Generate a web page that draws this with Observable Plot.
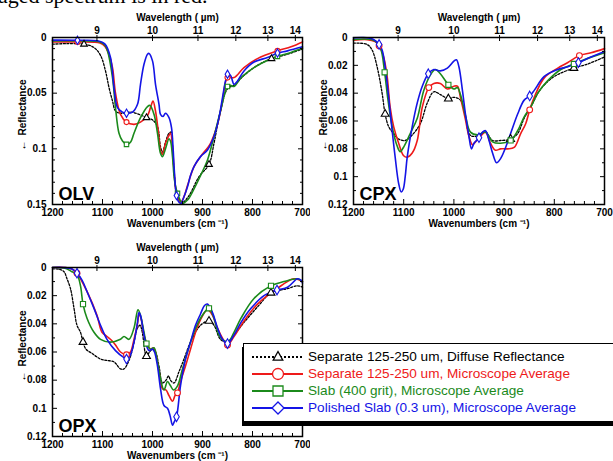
<!DOCTYPE html>
<html><head><meta charset="utf-8">
<script src="https://cdn.jsdelivr.net/npm/d3@7"></script>
<script src="https://cdn.jsdelivr.net/npm/@observablehq/plot@0.6"></script>
<style>
body{margin:0;width:613px;height:461px;position:relative;overflow:hidden;background:#fff;}
#cap{position:absolute;left:-2px;top:-15px;font:22px/22px 'Liberation Serif','Times New Roman',serif;color:#000;white-space:nowrap;}
.panel{position:absolute;}
#legend{position:absolute;left:243px;top:343px;width:390px;height:77px;border:1.5px solid #000;background:#fff;box-shadow:-1px 4px 0 0 #000;font:13.6px 'Liberation Sans',Arial,sans-serif;}
.row{position:absolute;left:0;height:17px;display:flex;align-items:center;white-space:nowrap;}
.row svg{margin-left:8px;margin-right:5px;}
</style>
</head><body>
<div id="cap">aged spectrum is in red.</div>
<div id="p1" class="panel" style="left:0;top:0"></div>
<div id="p2" class="panel" style="left:301px;top:0"></div>
<div id="p3" class="panel" style="left:0;top:230px"></div>
<div id="legend"></div>
<script>
// ---- series names / styles ----
const seriesKeys = ["black","red","green","blue"];
const seriesNames = ["Separate 125-250 um, Diffuse Reflectance","Separate 125-250 um, Microscope Average","Slab (400 grit), Microscope Average","Polished Slab (0.3 um), Microscope Average"];
const seriesColors = ["#000000","#ee1a1a","#1b8a1b","#1414e6"];
const seriesSymbols = ["triangle","circle","square","diamond"];

// ---- axis ticks ----
const wnMajor = [1200,1100,1000,900,800,700];
const wnMinor = [1180,1160,1140,1120,1080,1060,1040,1020,980,960,940,920,880,860,840,820,780,760,740,720];
const wlTicks = [9,10,11,12,13,14];
const olvYMajor = [0,0.05,0.1,0.15];
const olvYMinor = [0.01,0.02,0.03,0.04,0.06,0.07,0.08,0.09,0.11,0.12,0.13,0.14];
const pxYMajor = [0,0.02,0.04,0.06,0.08,0.1,0.12];
const pxYMinor = [0.01,0.03,0.05,0.07,0.09,0.11];

// ---- OLV [wavenumber, reflectance] ----
const olvBlack = [[1200,0.006],[1171,0.0055],[1137,0.006],[1117,0.009],[1104,0.016],[1094,0.03],[1087,0.045],[1080,0.057],[1074,0.066],[1064,0.068],[1044,0.067],[1027,0.069],[1012,0.072],[1000,0.074],[990,0.08],[984,0.098],[980,0.103],[974,0.094],[967,0.086],[962,0.085],[960,0.098],[956,0.125],[950,0.143],[940,0.148],[927,0.142],[907,0.125],[887,0.114],[877,0.095],[864,0.066],[850,0.046],[837,0.043],[817,0.034],[790,0.025],[762,0.019],[730,0.015],[700,0.0104]];
const olvRed = [[1200,0.004],[1150,0.004],[1105,0.005],[1095,0.008],[1088,0.014],[1080,0.027],[1074,0.05],[1064,0.069],[1052,0.076],[1037,0.078],[1024,0.076],[1010,0.07],[1004,0.063],[999,0.057],[994,0.066],[988,0.086],[984,0.101],[980,0.105],[974,0.095],[967,0.088],[964,0.086],[960,0.098],[957,0.119],[952,0.14],[944,0.148],[937,0.143],[930,0.133],[917,0.116],[904,0.107],[884,0.095],[870,0.078],[860,0.057],[850,0.036],[837,0.036],[817,0.027],[790,0.019],[750,0.012],[723,0.0084],[700,0.004]];
const olvGreen = [[1200,0.003],[1150,0.003],[1105,0.004],[1095,0.007],[1090,0.012],[1080,0.036],[1074,0.063],[1067,0.086],[1060,0.093],[1052,0.096],[1044,0.094],[1037,0.086],[1024,0.072],[1010,0.062],[1005,0.061],[997,0.069],[990,0.086],[984,0.104],[980,0.107],[974,0.1],[967,0.091],[964,0.093],[960,0.107],[956,0.128],[950,0.14],[940,0.149],[930,0.146],[917,0.136],[904,0.124],[890,0.11],[877,0.089],[864,0.066],[850,0.044],[844,0.043],[837,0.044],[823,0.036],[797,0.027],[763,0.019],[750,0.017],[723,0.0134],[700,0.0095]];
const olvBlue = [[1200,0.0024],[1150,0.0025],[1110,0.003],[1095,0.006],[1084,0.018],[1077,0.045],[1070,0.063],[1060,0.067],[1052,0.068],[1040,0.067],[1030,0.06],[1024,0.042],[1017,0.024],[1010,0.015],[1007,0.0143],[1000,0.021],[994,0.042],[987,0.06],[984,0.069],[979,0.071],[974,0.068],[967,0.072],[962,0.081],[959,0.098],[956,0.122],[952,0.142],[947,0.148],[943,0.149],[937,0.143],[930,0.134],[924,0.124],[917,0.116],[904,0.107],[890,0.101],[877,0.089],[867,0.072],[860,0.054],[854,0.039],[850,0.033],[844,0.034],[837,0.042],[830,0.039],[817,0.030],[797,0.022],[770,0.018],[750,0.014],[730,0.012],[700,0.0084]];
const olvBlackMk = [[1137,0.006],[1012,0.072],[887,0.114],[762,0.019]];
const olvRedMk = [[1150,0.004],[1052,0.076],[850,0.036],[750,0.012]];
const olvGreenMk = [[1052,0.096],[950,0.14],[850,0.044],[750,0.017]];
const olvBlueMk = [[1150,0.0025],[1052,0.068],[952,0.142],[850,0.033],[750,0.014]];

// ---- CPX ----
const cpxBlack = [[1200,0.004],[1173,0.005],[1163,0.009],[1153,0.021],[1143,0.04],[1137,0.055],[1130,0.064],[1120,0.069],[1110,0.073],[1097,0.074],[1083,0.07],[1067,0.062],[1053,0.047],[1040,0.039],[1027,0.041],[1011,0.044],[1000,0.043],[987,0.045],[977,0.057],[970,0.069],[963,0.071],[947,0.07],[937,0.068],[923,0.074],[907,0.074],[887,0.073],[873,0.069],[860,0.058],[847,0.05],[827,0.037],[800,0.028],[761,0.022],[733,0.019],[700,0.014]];
const cpxRed = [[1200,0.002],[1173,0.0015],[1157,0.003],[1149,0.006],[1140,0.014],[1133,0.028],[1127,0.05],[1120,0.064],[1110,0.076],[1100,0.085],[1093,0.086],[1083,0.083],[1073,0.074],[1063,0.05],[1050,0.036],[1040,0.033],[1027,0.033],[1013,0.037],[1000,0.035],[993,0.035],[987,0.043],[977,0.059],[970,0.071],[963,0.077],[957,0.075],[947,0.071],[937,0.068],[927,0.076],[917,0.081],[907,0.08],[893,0.08],[880,0.079],[867,0.069],[857,0.062],[849,0.052],[840,0.043],[820,0.029],[793,0.022],[773,0.018],[750,0.013],[727,0.011],[700,0.008]];
const cpxGreen = [[1200,0.0014],[1160,0.002],[1147,0.007],[1138,0.025],[1132,0.043],[1123,0.064],[1113,0.078],[1107,0.082],[1099,0.078],[1087,0.069],[1073,0.058],[1060,0.038],[1047,0.027],[1037,0.023],[1027,0.026],[1011,0.034],[1000,0.037],[993,0.036],[987,0.041],[977,0.056],[967,0.068],[953,0.07],[937,0.068],[923,0.075],[907,0.076],[887,0.074],[873,0.067],[860,0.057],[847,0.05],[833,0.04],[813,0.031],[787,0.023],[761,0.019],[733,0.015],[700,0.011]];
const cpxBlue = [[1200,0.0003],[1180,0],[1160,0.0014],[1149,0.005],[1143,0.009],[1137,0.021],[1130,0.043],[1123,0.067],[1117,0.086],[1110,0.105],[1105,0.111],[1101,0.109],[1097,0.1],[1093,0.086],[1083,0.064],[1073,0.047],[1063,0.035],[1051,0.026],[1040,0.023],[1027,0.024],[1013,0.022],[1000,0.017],[995,0.016],[990,0.021],[983,0.038],[977,0.055],[970,0.071],[965,0.08],[960,0.076],[950,0.072],[943,0.068],[937,0.067],[930,0.074],[923,0.083],[915,0.09],[907,0.087],[897,0.079],[887,0.069],[873,0.055],[860,0.045],[849,0.042],[840,0.038],[820,0.028],[793,0.023],[773,0.021],[752,0.018],[727,0.014],[700,0.010]];
const cpxBlackMk = [[1137,0.055],[1011,0.044],[887,0.073],[761,0.022]];
const cpxRedMk = [[1149,0.006],[1050,0.036],[849,0.052],[750,0.013]];
const cpxGreenMk = [[1138,0.025],[1011,0.034],[887,0.074],[761,0.019]];
const cpxBlueMk = [[1149,0.005],[1051,0.026],[950,0.072],[849,0.042],[752,0.018]];

// ---- OPX ----
const opxBlack = [[1200,0.001],[1187,0.0012],[1177,0.003],[1171,0.008],[1164,0.015],[1157,0.029],[1151,0.041],[1144,0.046],[1139,0.053],[1133,0.058],[1121,0.061],[1104,0.065],[1091,0.066],[1077,0.067],[1064,0.072],[1057,0.072],[1047,0.066],[1040,0.058],[1030,0.043],[1025,0.041],[1021,0.045],[1012,0.063],[1006,0.06],[1000,0.058],[994,0.06],[987,0.07],[980,0.082],[973,0.08],[968,0.077],[964,0.08],[957,0.082],[947,0.074],[937,0.065],[924,0.053],[904,0.041],[887,0.038],[877,0.041],[864,0.051],[850,0.053],[837,0.048],[817,0.039],[790,0.028],[763,0.018],[730,0.015],[710,0.013],[700,0.014]];
const opxRed = [[1200,0],[1177,0],[1161,0.001],[1151,0.004],[1131,0.017],[1111,0.034],[1101,0.046],[1091,0.049],[1081,0.052],[1074,0.055],[1064,0.06],[1052,0.062],[1044,0.06],[1037,0.051],[1030,0.04],[1027,0.033],[1023,0.036],[1017,0.048],[1010,0.055],[1004,0.058],[998,0.057],[994,0.06],[987,0.074],[980,0.086],[973,0.087],[967,0.091],[960,0.095],[955,0.091],[950,0.089],[944,0.081],[934,0.07],[924,0.058],[911,0.043],[901,0.035],[890,0.03],[880,0.034],[870,0.043],[857,0.052],[850,0.055],[837,0.049],[817,0.038],[790,0.026],[751,0.015],[717,0.008],[700,0.01]];
const opxGreen = [[1200,0],[1175,0.0005],[1161,0.003],[1151,0.005],[1144,0.013],[1139,0.026],[1131,0.036],[1117,0.046],[1104,0.051],[1084,0.053],[1064,0.051],[1057,0.049],[1047,0.051],[1037,0.043],[1029,0.03],[1024,0.034],[1017,0.046],[1012,0.054],[1004,0.058],[997,0.057],[990,0.067],[984,0.079],[977,0.087],[970,0.081],[964,0.084],[958,0.087],[950,0.084],[940,0.072],[930,0.06],[917,0.046],[904,0.036],[887,0.029],[877,0.036],[867,0.048],[857,0.052],[847,0.052],[837,0.046],[823,0.036],[797,0.022],[763,0.013],[737,0.01],[710,0.008],[700,0.01]];
const opxBlue = [[1200,0],[1177,0],[1161,0.001],[1151,0.004],[1141,0.009],[1131,0.017],[1117,0.029],[1104,0.041],[1091,0.051],[1074,0.059],[1057,0.064],[1050,0.065],[1044,0.062],[1037,0.053],[1030,0.039],[1027,0.032],[1024,0.034],[1018,0.046],[1014,0.053],[1007,0.059],[1000,0.058],[996,0.06],[990,0.07],[984,0.086],[977,0.098],[970,0.1],[965,0.105],[960,0.112],[957,0.11],[952,0.106],[944,0.084],[934,0.065],[924,0.053],[914,0.041],[904,0.033],[896,0.027],[890,0.026],[880,0.032],[870,0.043],[860,0.051],[850,0.054],[837,0.048],[823,0.039],[803,0.029],[777,0.02],[751,0.016],[730,0.014],[710,0.008],[703,0.009],[700,0.011]];
const opxBlackMk = [[1139,0.053],[1012,0.063],[887,0.038],[763,0.018]];
const opxRedMk = [[1151,0.004],[1052,0.062],[950,0.089],[850,0.055]];
const opxGreenMk = [[1139,0.026],[1012,0.054],[887,0.029],[763,0.013]];
const opxBlueMk = [[1151,0.004],[1052,0.065],[952,0.106],[850,0.054],[751,0.016]];

const FONT = "'Liberation Sans', Arial, Helvetica, sans-serif";

function panel({name, lines, markers, yMax, yMajor, yMinor, width, height, ml, mr, mt, mb, mkR}) {
  const wlPos = wlTicks.map(l => 1e4 / l);
  const blank = () => "";
  const m = [];
  lines.forEach((data, i) => {
    m.push(Plot.line(data, {x: d => d[0], y: d => d[1], stroke: seriesColors[i], strokeWidth: i === 0 ? 1.3 : 1.6,
      strokeDasharray: i === 0 ? "2,1.6" : null, curve: "catmull-rom"}));
  });
  markers.forEach((data, i) => {
    m.push(Plot.dot(data, {x: d => d[0], y: d => d[1], symbol: seriesSymbols[i], r: mkR, fill: "white",
      stroke: seriesColors[i], strokeWidth: 1.1}));
  });
  m.push(
    Plot.frame({stroke: "black", strokeWidth: 1.5}),
    Plot.axisX(wnMajor, {anchor: "bottom", tickSize: -5, tickFormat: blank, label: null}),
    Plot.axisX(wnMinor, {anchor: "bottom", tickSize: -3, tickFormat: blank, label: null}),
    Plot.axisX(wnMajor, {anchor: "bottom", tickSize: 0, tickPadding: 4, tickFormat: d => String(d), label: null}),
    Plot.axisX(wlPos, {anchor: "top", tickSize: 3, tickPadding: 1, tickFormat: d => String(Math.round(1e4 / d)), label: null}),
    Plot.axisX(wlPos, {anchor: "top", tickSize: -3, tickFormat: blank, label: null}),
    Plot.axisY(yMajor, {anchor: "left", tickSize: -5, tickFormat: blank, label: null}),
    Plot.axisY(yMinor, {anchor: "left", tickSize: -3, tickFormat: blank, label: null}),
    Plot.axisY(yMajor, {anchor: "left", tickSize: 0, tickPadding: 6, tickFormat: d => String(d), label: null}),
    Plot.axisY(yMajor, {anchor: "right", tickSize: -5, tickFormat: blank, label: null}),
    Plot.axisY(yMinor, {anchor: "right", tickSize: -3, tickFormat: blank, label: null}),
    Plot.text(["Wavelength ( µm)"], {frameAnchor: "top", dy: -24, text: d => d, fontWeight: "bold"}),
    Plot.text(["Wavenumbers (cm ⁻¹)"], {frameAnchor: "bottom", dy: 22, text: d => d, fontWeight: "bold"}),
    Plot.text(["←\u2002Reflectance"], {frameAnchor: "left", textAnchor: "middle", dx: -30, dy: -6, rotate: -90, text: d => d, fontWeight: "bold"}),
    Plot.text([name], {frameAnchor: "bottom-left", dx: 6, dy: -5, textAnchor: "start", lineAnchor: "bottom", text: d => d, fontSize: 18, fontWeight: "bold"})
  );
  return Plot.plot({
    width, height, marginLeft: ml, marginRight: mr, marginTop: mt, marginBottom: mb,
    x: {domain: [1200, 700]},
    y: {domain: [0, yMax], reverse: true},
    style: {fontFamily: FONT, fontSize: "10px", fontWeight: "bold", background: "transparent", color: "black"},
    marks: m
  });
}

document.getElementById("p1").append(panel({name: "OLV", lines: [olvBlack, olvRed, olvGreen, olvBlue],
  markers: [olvBlackMk, olvRedMk, olvGreenMk, olvBlueMk], yMax: 0.15, yMajor: olvYMajor, yMinor: olvYMinor,
  width: 310, height: 235, ml: 52, mr: 8, mt: 37, mb: 31, mkR: 2.5}));
document.getElementById("p2").append(panel({name: "CPX", lines: [cpxBlack, cpxRed, cpxGreen, cpxBlue],
  markers: [cpxBlackMk, cpxRedMk, cpxGreenMk, cpxBlueMk], yMax: 0.12, yMajor: pxYMajor, yMinor: pxYMinor,
  width: 312, height: 235, ml: 52, mr: 9, mt: 37, mb: 31, mkR: 2.9}));
document.getElementById("p3").append(panel({name: "OPX", lines: [opxBlack, opxRed, opxGreen, opxBlue],
  markers: [opxBlackMk, opxRedMk, opxGreenMk, opxBlueMk], yMax: 0.12, yMajor: pxYMajor, yMinor: pxYMinor,
  width: 310, height: 231, ml: 52, mr: 8, mt: 37, mb: 25, mkR: 2.9}));

// ---- legend ----
const lg = document.getElementById("legend");
const symPath = {
  triangle: "M0,-5.5L4.8,3.2L-4.8,3.2Z",
  circle: "M5.5,0A5.5,5.5 0 1,1 -5.5,0A5.5,5.5 0 1,1 5.5,0Z",
  square: "M-5,-5H5V5H-5Z",
  diamond: "M0,-6L6,0L0,6L-6,0Z"
};
seriesKeys.forEach((k, i) => {
  const row = document.createElement("div");
  row.className = "row";
  row.style.top = (4 + i * 17) + "px";
  const c = seriesColors[i];
  row.innerHTML = `<svg width="51" height="16" viewBox="0 0 51 16"><line x1="0" y1="8" x2="51" y2="8" stroke="${c}" stroke-width="${i ? 2.2 : 2}" ${i ? "" : 'stroke-dasharray="2,2"'}/><path transform="translate(26,8)" d="${symPath[seriesSymbols[i]]}" fill="white" stroke="${c}" stroke-width="1.3"/></svg><span style="color:${c}">${seriesNames[i]}</span>`;
  lg.append(row);
});
</script>
</body></html>
